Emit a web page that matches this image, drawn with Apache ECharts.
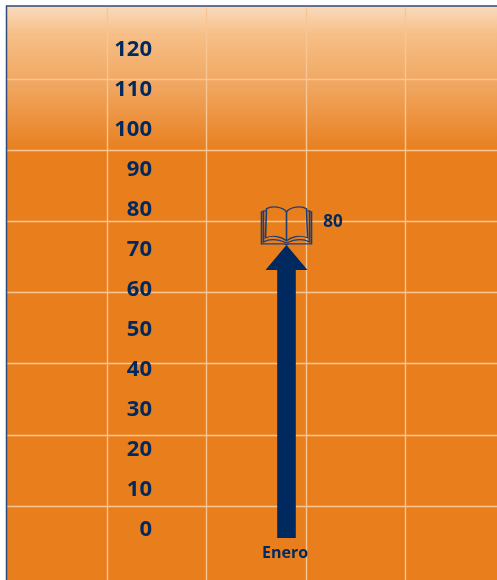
<!DOCTYPE html>
<html><head><meta charset="utf-8">
<style>html,body{margin:0;padding:0;background:#fff}#c{width:497px;height:580px}</style>
<script src="https://cdn.jsdelivr.net/npm/echarts@6/dist/echarts.min.js"></script>
</head><body><div id="c"></div>
<script>
const categories = ['Enero'];
const values = [80];
const tickMin = 0, tickMax = 120, tickStep = 10;
const NAVY = '#00295F';
const FONT = '"Open Sans","Noto Sans",sans-serif';
const BOOK = 'path://M25 6C21 1 10 0 5 3L4 31C12 28 20 30 25 34C30 30 38 28 46 31L45 3C40 0 29 1 25 6ZM25 6L25 34M4 5L2 5L2 35C10 31 18 33 25 36C32 33 40 31 48 35L48 5L46 5M2 6L0 6L0 37L23 37L25 38L27 37L50 37L50 6L48 6';

const chart = echarts.init(document.getElementById('c'), null, {renderer:'canvas'});
chart.setOption({
  animation:false,
  backgroundColor:'#fff',
  graphic:[{type:'rect',z:-100,silent:true,shape:{x:6.5,y:6,width:500,height:590},
    style:{stroke:'#2F4B7C',lineWidth:1.5,fill:{type:'linear',x:0,y:0,x2:0,y2:1,colorStops:[
      {offset:0,color:'#FADCBE'},{offset:0.05,color:'#F6BE86'},{offset:0.14,color:'#F0A55E'},{offset:0.25,color:'#E87E1C'},{offset:1,color:'#E87E1C'}]}}}],
  grid:[
    {outerBoundsMode:'none',left:7.5,top:7.8,width:497.5,height:576.5},
    {outerBoundsMode:'none',left:160,top:49.5,width:300,height:480},
    {outerBoundsMode:'none',left:76,width:421,top:98.5,height:439.5},
    {outerBoundsMode:'none',left:7.5,top:7.8,width:497.5,height:533.8}
  ],
  xAxis:[
    {gridIndex:0,type:'value',min:0,max:5,interval:1,axisLine:{show:false},axisTick:{show:false},axisLabel:{show:false},
      splitLine:{show:true,showMinLine:false,showMaxLine:false,lineStyle:{color:'#F9C592',width:1.4}}},
    {gridIndex:1,type:'value',show:false},
    {gridIndex:2,type:'category',data:categories,axisLine:{show:false},axisTick:{show:false},
      axisLabel:{color:NAVY,fontFamily:FONT,fontWeight:'bold',fontSize:16,margin:7,padding:[0,3,0,0]}},
    {gridIndex:3,type:'value',show:false,splitLine:{show:false}}
  ],
  yAxis:[
    {gridIndex:0,type:'value',show:false,splitLine:{show:false}},
    {gridIndex:1,type:'value',min:tickMin,max:tickMax,interval:tickStep,axisLine:{show:false},axisTick:{show:false},splitLine:{show:false},
      axisLabel:{color:NAVY,fontFamily:FONT,fontWeight:'bold',fontSize:22,margin:8}},
    {gridIndex:2,type:'value',min:tickMin,max:tickMax,show:false,splitLine:{show:false}},
    {gridIndex:3,type:'value',inverse:true,min:0,max:7.5,interval:1,axisLine:{show:false},axisTick:{show:false},axisLabel:{show:false},
      splitLine:{show:true,showMinLine:false,showMaxLine:false,lineStyle:{color:'#F9C592',width:1.4}}}
  ],
  series:[
    {type:'custom',xAxisIndex:2,yAxisIndex:2,z:3,data:values.map((v,i)=>[i,v]),
      encode:{x:0,y:1},
      renderItem(params,api){
        const tip=api.coord([api.value(0),api.value(1)]);
        const base=api.coord([api.value(0),0]);
        const x=tip[0],y=tip[1];
        return {type:'polygon',shape:{points:[[x,y],[x+21,y+25],[x+9.3,y+25],[x+9.3,base[1]],[x-9.3,base[1]],[x-9.3,y+25],[x-21,y+25]]},style:{fill:NAVY}};
      }},
    {type:'scatter',xAxisIndex:2,yAxisIndex:2,z:4,data:values.map((v,i)=>[i,v]),
      symbol:BOOK,symbolSize:[50,38],symbolOffset:[0,-19],symbolKeepAspect:false,
      itemStyle:{color:'rgba(0,0,0,0)',borderColor:'#1F3F74',borderWidth:1.4,opacity:1},
      label:{show:true,position:'right',distance:11,offset:[0,-4],color:NAVY,fontFamily:FONT,fontWeight:'bold',fontSize:17,
        formatter:p=>String(p.value[1])}}
  ]
});
</script></body></html>
